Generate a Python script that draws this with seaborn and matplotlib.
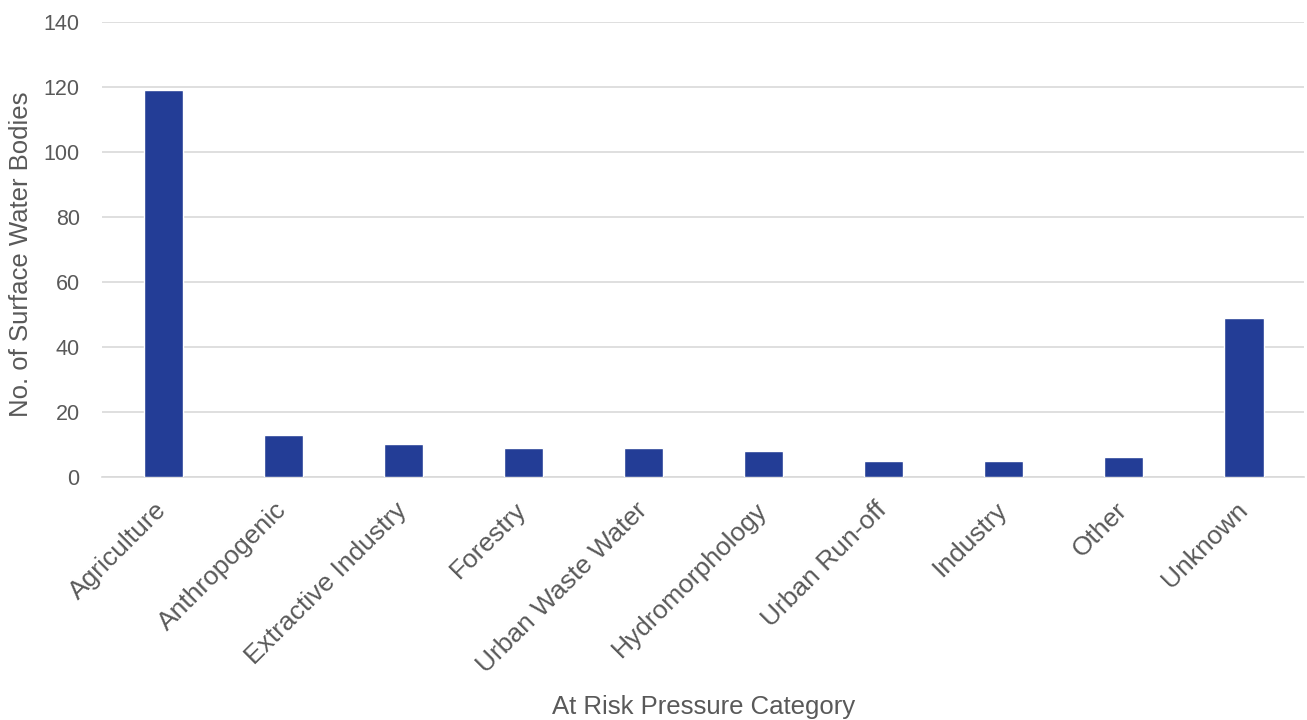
import matplotlib
matplotlib.use("Agg")
import matplotlib.pyplot as plt
import matplotlib.transforms as mtransforms
import seaborn as sns
import pandas as pd

categories = ["Agriculture", "Anthropogenic", "Extractive Industry", "Forestry",
              "Urban Waste Water", "Hydromorphology", "Urban Run-off", "Industry",
              "Other", "Unknown"]
counts = [119, 13, 10, 9, 9, 8, 5, 5, 6, 49]
y_ticks = [0, 20, 40, 60, 80, 100, 120, 140]

sns.set_theme(style="white")
plt.rcParams['font.family'] = ['Liberation Sans', 'DejaVu Sans']

df = pd.DataFrame({"cat": categories, "n": counts})

fig = plt.figure(figsize=(13.07, 7.2), dpi=100)
ax = fig.add_axes([0.078, 0.3375, 0.920, 0.632])
sns.barplot(data=df, x="cat", y="n", color="#233D96", saturation=1, width=0.325, ax=ax, zorder=3)

ax.set_ylim(0, 140)
ax.set_yticks(y_ticks)
ax.set_xlim(-0.512, 9.503)
ax.yaxis.grid(True, color="#D9D9D9", linewidth=1.2, zorder=0)
ax.xaxis.grid(False)
for s in ["top", "right", "left"]:
    ax.spines[s].set_visible(False)
ax.spines["bottom"].set_color("#D9D9D9")
ax.spines["bottom"].set_linewidth(1.2)
ax.tick_params(axis="y", length=0, labelsize=15.5, labelcolor="#595959", pad=16)
ax.tick_params(axis="x", length=0, labelsize=19, labelcolor="#595959", pad=15)
offset = mtransforms.ScaledTranslation(-9 / 100, 0, fig.dpi_scale_trans)
for lab in ax.get_xticklabels():
    lab.set_rotation(45)
    lab.set_ha("right")
    lab.set_rotation_mode("anchor")
    lab.set_transform(lab.get_transform() + offset)
ax.set_xlabel("At Risk Pressure Category", fontsize=18.5, color="#595959")
ax.set_ylabel("No. of Surface Water Bodies", fontsize=18.5, color="#595959")
ax.xaxis.set_label_coords(0.5, -0.478)
ax.yaxis.set_label_coords(-0.0574, 0.49)

fig.savefig("out.png", dpi=100)
